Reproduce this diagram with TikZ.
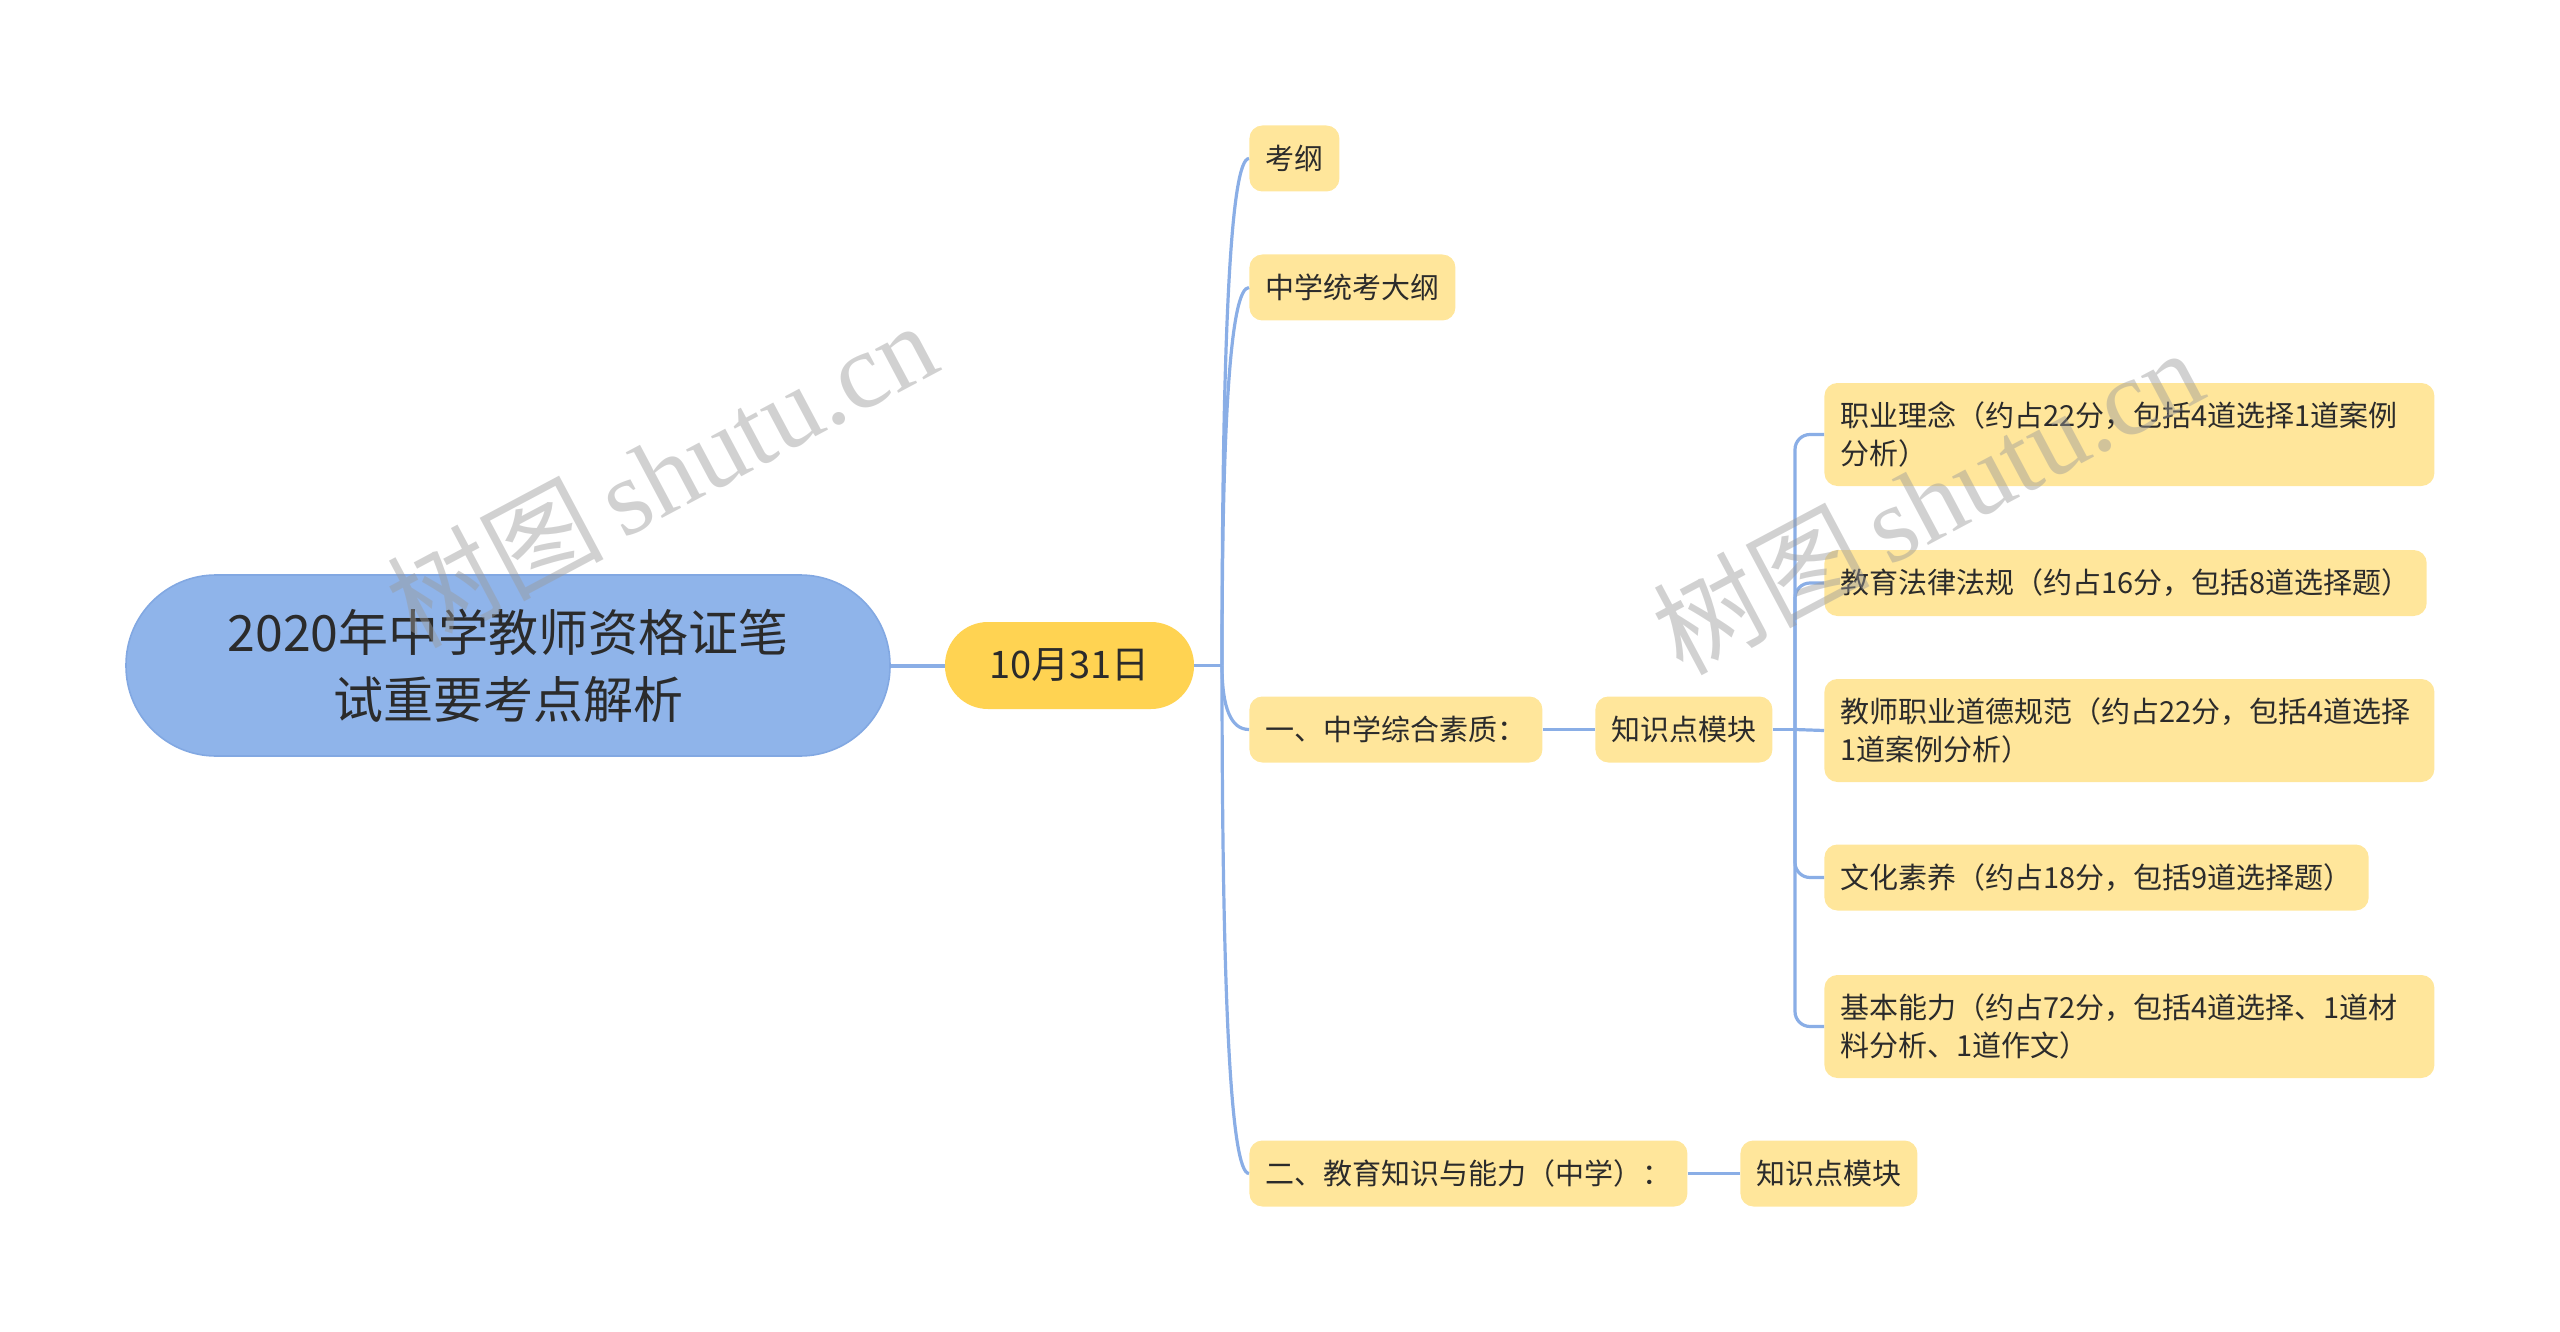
\documentclass[tikz,border=0pt]{standalone}
\usepackage{fontspec}
\setmainfont{Noto Sans CJK SC}
\newfontfamily\wmserif{Liberation Serif}
\newfontfamily\wmcjk{Noto Sans CJK SC}
\definecolor{rootfill}{HTML}{8FB4EA}
\definecolor{rootline}{HTML}{82A8E2}
\definecolor{datefill}{HTML}{FFD352}
\definecolor{leaffill}{HTML}{FFE69B}
\definecolor{linkc}{HTML}{8AAEE6}
\definecolor{txt}{HTML}{2B2B2B}
\definecolor{wmc}{HTML}{9A9A9A}
\tikzset{
  rootbox/.style={fill=rootfill, draw=rootline, line width=0.8pt, rounded corners=45pt,
    minimum width=382pt, minimum height=90.5pt, inner sep=0pt, align=center, text=txt,
    font=\fontsize{25}{33.5}\selectfont},
  datebox/.style={fill=datefill, rounded corners=21.5pt, minimum width=124.5pt,
    minimum height=43.5pt, inner sep=0pt, text=txt, font=\fontsize{19}{24}\selectfont},
  leafbox/.style={fill=leaffill, rounded corners=6.5pt, inner xsep=8pt, inner ysep=0pt,
    minimum height=33pt, anchor=west, text=txt, font=\fontsize{14.5}{18.75}\selectfont},
  widebox/.style={leafbox, minimum height=51.5pt, text width=289pt, align=left},
  conn/.style={draw=linkc, line width=1.6pt},
  wmark/.style={text=wmc, opacity=0.45, inner sep=0pt, font=\fontsize{54}{60}\selectfont}
}
\begin{document}
\begin{tikzpicture}[x=0.5pt,y=-0.5pt]
\useasboundingbox (0,0) rectangle (2560,1332);
% nodes
\node[rootbox] (root) at (508,665.5) {2020年中学教师资格证笔\\试重要考点解析};
\node[datebox] (date) at (1069.5,665.5) {10月31日};
\node[leafbox] (kg) at (1249,158.5) {考纲};
\node[leafbox] (zx) at (1249,287.5) {中学统考大纲};
\node[leafbox] (s1) at (1249,729.5) {一、中学综合素质：};
\node[leafbox] (s2) at (1249,1173.5) {二、教育知识与能力（中学）：};
\node[leafbox] (m1) at (1595,729.5) {知识点模块};
\node[leafbox] (m2) at (1740,1173.5) {知识点模块};
\node[widebox] (r1) at (1824,434.5) {职业理念（约占22分，包括4道选择1道案例\\分析）};
\node[leafbox] (r2) at (1824,583) {教育法律法规（约占16分，包括8道选择题）};
\node[widebox] (r3) at (1824,730.5) {教师职业道德规范（约占22分，包括4道选择\\1道案例分析）};
\node[leafbox] (r4) at (1824,877.5) {文化素养（约占18分，包括9道选择题）};
\node[widebox] (r5) at (1824,1026.5) {基本能力（约占72分，包括4道选择、1道材\\料分析、1道作文）};
% connectors
\draw[conn, line width=2pt] (root.east) -- (date.west);
\coordinate (j1) at (1222,665.5);
\draw[conn] (date.east) -- (j1);
\draw[conn] (j1) .. controls (1222,327.5) and (1231,158.5) .. (kg.west);
\draw[conn] (j1) .. controls (1222,413.5) and (1231,287.5) .. (zx.west);
\draw[conn] (j1) .. controls (1222,708) and (1231,729.5) .. (s1.west);
\draw[conn] (j1) .. controls (1222,1004) and (1231,1173.5) .. (s2.west);
\draw[conn] (s1.east) -- (m1.west);
\draw[conn] (s2.east) -- (m2.west);
\coordinate (j2) at (1795,729.5);
\draw[conn] (m1.east) -- (j2);
\draw[conn, rounded corners=7.5pt] (j2) |- (r1.west);
\draw[conn, rounded corners=7.5pt] (j2) |- (r2.west);
\draw[conn] (j2) -- (r3.west);
\draw[conn, rounded corners=7.5pt] (j2) |- (r4.west);
\draw[conn, rounded corners=7.5pt] (j2) |- (r5.west);
% watermarks
\node[wmark, rotate=28] (wm1) at (661,473) {\wmcjk 树图\,\wmserif shutu.cn};
\node[wmark, rotate=28] (wm2) at (1927,500) {\wmcjk 树图\,\wmserif shutu.cn};
\end{tikzpicture}
\end{document}
